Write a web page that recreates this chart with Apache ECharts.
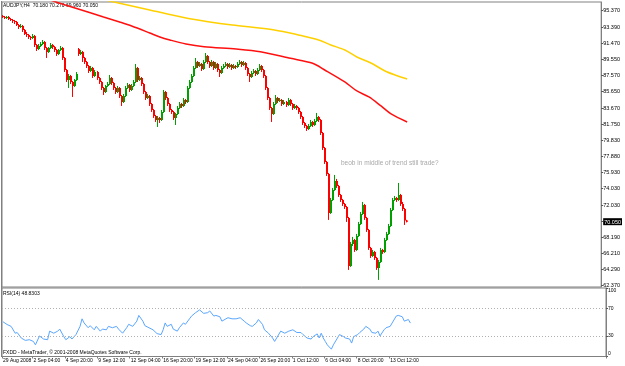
<!DOCTYPE html>
<html><head><meta charset="utf-8">
<script src="https://cdn.jsdelivr.net/npm/echarts@6/dist/echarts.min.js"></script>
<style>html,body{margin:0;padding:0;background:#fff}#c{width:625px;height:366px}</style>
</head><body><div id="c"></div>
<script>
// ---- data (AUDJPY H4) ----
const opens = [
94.74,94.62,94.50,94.62,94.38,94.26,94.14,94.02,93.66,93.42,
93.54,93.06,92.58,92.46,92.22,92.10,92.34,91.26,90.78,91.14,
91.38,91.62,90.90,90.42,90.90,91.26,91.02,90.66,90.18,90.66,
90.90,89.70,88.26,87.06,87.54,86.82,86.34,87.06,90.78,90.18,
90.42,89.70,89.22,88.74,88.14,88.50,87.54,88.02,87.30,86.82,
86.10,85.62,86.34,86.58,87.30,86.70,86.10,85.62,86.10,85.14,
84.42,85.14,86.10,86.46,85.86,86.34,86.82,88.50,87.06,87.30,
86.58,85.62,84.90,85.14,84.18,83.46,82.74,82.26,82.50,82.26,
83.22,85.62,84.90,84.18,83.46,83.22,82.50,82.98,83.70,84.18,
83.94,84.66,84.42,86.10,86.82,87.54,88.50,89.22,88.74,88.98,
88.38,89.22,89.94,89.22,88.74,89.22,88.50,88.98,88.26,87.90,
88.50,88.74,88.98,88.62,88.86,88.50,88.74,88.62,88.98,89.22,
88.86,89.10,88.50,87.78,87.42,87.90,88.14,87.78,88.26,88.74,
88.26,87.54,86.10,84.90,83.70,82.98,84.18,84.90,84.54,84.66,
84.18,84.42,84.06,84.66,84.18,83.70,83.94,83.70,83.22,82.62,
81.90,81.54,81.18,81.54,82.02,81.66,82.14,82.62,82.26,80.70,
78.90,77.22,75.78,71.10,72.66,73.86,74.94,74.34,73.26,72.66,
72.18,71.82,70.50,64.74,67.38,67.86,66.66,68.34,69.78,70.98,
72.06,70.50,69.06,66.90,65.94,66.42,65.70,64.50,65.22,66.66,
66.42,67.86,68.58,69.54,71.46,72.66,72.90,72.66,73.26,72.18,
71.58,70.18];
const closes = [
94.62,94.50,94.62,94.38,94.26,94.14,94.02,93.66,93.42,93.54,
93.06,92.58,92.46,92.22,92.10,92.34,91.26,90.78,91.14,91.38,
91.62,90.90,90.42,90.90,91.26,91.02,90.66,90.18,90.66,90.90,
89.70,88.26,87.06,87.54,86.82,86.34,87.06,87.78,90.18,90.42,
89.70,89.22,88.74,88.14,88.50,87.54,88.02,87.30,86.82,86.10,
85.62,86.34,86.58,87.30,86.70,86.10,85.62,86.10,85.14,84.42,
85.14,86.10,86.46,85.86,86.34,86.82,88.50,87.06,87.30,86.58,
85.62,84.90,85.14,84.18,83.46,82.74,82.26,82.50,82.26,83.22,
85.62,84.90,84.18,83.46,83.22,82.50,82.98,83.70,84.18,83.94,
84.66,84.42,86.10,86.82,87.54,88.50,89.22,88.74,88.98,88.38,
89.22,89.94,89.22,88.74,89.22,88.50,88.98,88.26,87.90,88.50,
88.74,88.98,88.62,88.86,88.50,88.74,88.62,88.98,89.22,88.86,
89.10,88.50,87.78,87.42,87.90,88.14,87.78,88.26,88.74,88.26,
87.54,86.10,84.90,83.70,82.98,84.18,84.90,84.54,84.66,84.18,
84.42,84.06,84.66,84.18,83.70,83.94,83.70,83.22,82.62,81.90,
81.54,81.18,81.54,82.02,81.66,82.14,82.62,82.26,80.70,78.90,
77.22,75.78,71.10,72.66,73.86,74.94,74.34,73.26,72.66,72.18,
71.82,70.50,64.74,67.38,67.86,66.66,68.34,69.78,70.98,72.06,
70.50,69.06,66.90,65.94,66.42,65.70,64.50,65.22,66.66,66.42,
67.86,68.58,69.54,71.46,72.66,72.90,72.66,73.26,72.18,71.58,
70.18,70.05];
const lows = [
94.50,94.38,94.38,94.26,94.14,93.90,93.78,93.54,93.18,93.30,
92.82,92.46,92.22,91.98,91.86,91.98,91.02,90.54,90.66,91.02,
91.26,90.66,89.70,90.30,90.78,90.78,90.42,89.94,90.06,90.54,
89.46,88.02,86.82,86.10,86.58,85.02,86.22,86.94,89.94,90.06,
89.22,88.98,88.50,87.90,88.02,87.30,87.42,87.06,86.58,85.86,
85.26,85.50,86.22,86.46,86.46,85.86,85.38,85.50,84.90,83.94,
84.30,85.02,85.98,85.62,85.74,86.22,86.70,86.82,86.94,86.34,
85.38,84.66,84.78,83.94,83.22,82.50,82.02,81.42,81.90,82.14,
83.10,84.66,83.94,83.22,82.98,82.26,81.66,82.86,83.58,83.70,
83.82,84.18,84.30,85.98,86.70,87.42,88.38,88.50,88.62,88.14,
88.26,89.10,88.98,88.50,88.62,88.26,88.38,88.02,87.42,87.78,
88.38,88.62,88.38,88.50,88.26,88.38,88.38,88.50,88.86,88.62,
88.74,88.26,87.54,86.82,87.30,87.78,87.54,87.66,88.14,88.02,
87.30,85.86,84.66,83.46,82.02,82.86,84.06,84.30,84.42,83.94,
84.06,83.82,83.94,83.94,83.46,83.58,83.46,82.98,82.38,81.66,
81.30,80.94,81.06,81.42,81.42,81.54,82.02,82.02,80.46,78.66,
76.98,75.54,70.26,70.98,72.54,73.74,74.10,73.02,72.42,71.94,
71.58,70.02,64.26,64.62,67.14,66.42,66.54,68.22,69.66,70.86,
70.26,68.82,66.66,65.70,65.82,65.46,64.26,63.06,65.10,66.18,
66.30,67.74,68.46,69.42,71.34,72.54,72.42,72.54,71.94,71.34,
69.66,69.96];
const highs = [
94.86,94.74,94.74,94.74,94.50,94.38,94.26,94.14,93.78,93.78,
93.66,93.18,92.82,92.58,92.34,92.58,92.46,91.38,91.38,91.62,
91.86,91.74,91.02,91.02,91.50,91.38,91.14,90.78,90.78,91.14,
91.02,89.82,88.38,87.78,87.66,86.94,87.18,88.02,90.90,90.66,
90.54,89.82,89.34,88.86,88.74,88.62,88.26,88.14,87.42,86.94,
86.22,86.46,86.82,87.66,87.42,86.82,86.22,86.34,86.22,85.26,
85.38,86.34,86.70,86.58,86.58,87.06,88.98,88.62,87.54,87.42,
86.70,85.74,85.38,85.26,84.30,83.58,82.86,82.74,82.62,83.46,
85.86,85.74,85.02,84.30,83.58,83.34,83.10,83.94,84.42,84.30,
84.90,84.78,86.34,87.06,87.78,88.74,89.70,89.34,89.22,89.10,
89.46,90.30,90.06,89.34,89.46,89.34,89.22,89.10,88.38,88.74,
88.98,89.22,89.10,89.10,88.98,88.98,88.86,89.22,89.46,89.34,
89.34,89.22,88.62,87.90,88.14,88.38,88.26,88.50,88.98,88.86,
88.38,87.66,86.22,85.02,83.82,84.42,85.26,85.02,84.90,84.78,
84.66,84.54,84.90,84.78,84.30,84.18,84.06,83.82,83.34,82.74,
82.02,81.66,81.78,82.26,82.14,82.38,83.10,82.74,82.38,80.82,
79.02,77.34,75.90,72.90,74.10,75.66,75.18,74.46,73.38,72.78,
72.30,71.94,70.62,67.62,68.22,67.98,68.58,70.02,71.22,72.42,
72.18,70.62,69.18,67.02,66.66,66.54,65.82,65.46,66.90,66.78,
68.10,68.82,69.78,71.70,72.90,73.14,73.02,74.70,73.38,72.42,
71.70,70.27];
// moving averages read as [bar index, price]
const redMA = [[0,98.70],[13,97.62],[25,96.54],[31,96.06],[39,95.46],[43,95.16],[50,94.62],[58,94.02],[64,93.54],[73,92.70],[78,92.22],[83,91.86],[91,91.38],[100,91.06],[116,90.78],[128,90.46],[143,89.66],[154,89.06],[160,88.26],[170,86.82],[176,85.74],[182,85.02],[188,83.94],[193,82.98],[201,82.02]];
const yellowMA = [[0,99.30],[28,97.86],[53,96.54],[73,95.46],[91,94.50],[102,94.06],[114,93.66],[135,93.06],[147,92.46],[157,91.86],[163,91.26],[170,90.66],[176,89.82],[183,89.10],[190,88.14],[195,87.66],[201,87.18]];
// RSI(14) read as [bar index, value]
const rsi = [[0,50.7],[2,46.7],[4,44],[6,34],[7,35],[9,27],[11,23.5],[13,24.5],[15,22],[16,17],[18,30],[20,25.5],[22,24.5],[23,37],[25,34],[27,37],[28,40],[30,29],[31,24.5],[33,29],[34,25.5],[36,32],[38,44],[39,55],[40,49],[42,42],[43,45],[45,39],[46,44],[48,37],[49,40],[51,39],[52,44],[54,42],[56,44],[57,40],[59,34],[61,42],[62,47],[64,44],[66,51.6],[67,60],[69,51.6],[70,45],[72,42],[74,39],[76,33.4],[78,32],[79,39],[80,49],[81,44],[83,47],[84,40],[86,37],[87,42],[89,49],[90,47],[92,55],[93,59],[95,64],[97,68],[99,63],[101,64],[102,66.5],[104,59],[105,60],[107,58],[108,51.6],[110,55],[111,56.6],[113,55],[115,55],[117,56.6],[119,51.6],[120,49],[122,45],[123,44],[125,49],[126,54],[128,47],[129,39],[131,34],[133,27],[134,22],[135,27],[137,37],[139,34],[141,37],[143,39],[145,35],[147,35],[148,32],[150,27],[152,25.5],[153,29],[155,33],[156,27],[157,34],[158,27],[159,22],[160,17],[162,10.7],[163,17],[165,27],[166,32],[168,29],[169,27],[171,25.5],[172,19.6],[173,29],[175,32],[176,35],[178,40],[179,44],[181,40],[182,35],[184,34],[185,37],[186,30],[188,39],[189,42],[191,44],[192,49],[194,59],[195,60],[197,58],[198,51.6],[200,54],[201,48.8]];
const priceTicks = [95.37,93.39,91.47,89.55,87.57,85.65,83.67,81.75,79.83,77.88,75.93,74.03,72.03,70.05,68.19,66.21,64.29,62.37];
const currentPrice = 70.05;
const rsiTicks = [0,30,70,100];
const rsiLevels = [70,30];
const timeLabelIdx = [0,15,31,47,63,79,95,111,127,143,159,175,191];
const timeLabels = ['29 Aug 2008','2 Sep 04:00','4 Sep 20:00','9 Sep 12:00','12 Sep 04:00','16 Sep 20:00','19 Sep 12:00','24 Sep 04:00','26 Sep 20:00','1 Oct 12:00','6 Oct 04:00','8 Oct 20:00','13 Oct 12:00'];
const SLOTS = 298;

const categories = [];
for (let i = 0; i < SLOTS; i++) {
  const k = timeLabelIdx.indexOf(i);
  categories.push(k >= 0 ? timeLabels[k] : '');
}
const candleRows = opens.map((o, i) => [i, o, closes[i], lows[i], highs[i]]);
const FONT = 'Liberation Sans, Arial, sans-serif';
const BULL = '#00a000', BEAR = '#ff0000';

function renderCandle(params, api) {
  const i = api.value(0), o = api.value(1), c = api.value(2), l = api.value(3), h = api.value(4);
  const pH = api.coord([i, h]), pL = api.coord([i, l]);
  const pO = api.coord([i, o]), pC = api.coord([i, c]);
  const xr = Math.round(pH[0]);
  const col = c >= o ? BULL : BEAR;
  const top = Math.min(pO[1], pC[1]);
  const hgt = Math.max(1, Math.abs(pO[1] - pC[1]));
  return {type: 'group', children: [
    {type: 'line', shape: {x1: xr - 0.5, y1: pH[1], x2: xr - 0.5, y2: pL[1]}, style: {stroke: col, lineWidth: 1}},
    {type: 'rect', shape: {x: xr - 1, y: top, width: 2, height: hgt}, style: {fill: col}}
  ]};
}

const chart = echarts.init(document.getElementById('c'), null, {renderer: 'canvas'});
const showLab = (idx, val) => val !== '';
chart.setOption({
  animation: false,
  backgroundColor: '#ffffff',
  textStyle: {fontFamily: FONT},
  grid: [
    {left: 2, top: 2, width: 604, height: 285, show: true, borderColor: '#808080', borderWidth: 1, backgroundColor: 'transparent'},
    {left: 2, top: 288, width: 604, height: 68.5, show: true, borderColor: '#808080', borderWidth: 1, backgroundColor: 'transparent'}
  ],
  xAxis: [
    {type: 'category', gridIndex: 0, data: categories, boundaryGap: true,
     axisLine: {show: false}, axisTick: {show: false}, axisLabel: {show: false}, splitLine: {show: false}},
    {type: 'category', gridIndex: 1, data: categories, boundaryGap: true,
     axisLine: {show: true, lineStyle: {color: '#808080'}},
     axisTick: {show: true, interval: showLab, length: 2, lineStyle: {color: '#808080'}},
     axisLabel: {show: true, interval: showLab, align: 'left', fontSize: 5, color: '#000', margin: 2, fontFamily: FONT},
     splitLine: {show: false}}
  ],
  yAxis: [
    {type: 'value', gridIndex: 0, position: 'right', min: 62.21, max: 96.42,
     axisLine: {show: true, lineStyle: {color: '#808080'}},
     axisTick: {show: true, customValues: priceTicks, length: 2, lineStyle: {color: '#555'}},
     axisLabel: {show: true, customValues: priceTicks, fontSize: 5.5, color: '#000', margin: 2, fontFamily: FONT,
       formatter: v => Math.abs(v - currentPrice) < 1e-6 ? '{cur|' + v.toFixed(3) + '}' : v.toFixed(3),
       rich: {cur: {backgroundColor: '#000', color: '#fff', fontSize: 5.5, padding: [1, 1, 0, 1], fontFamily: FONT}}},
     splitLine: {show: false}},
    {type: 'value', gridIndex: 1, position: 'right', min: 0, max: 100,
     axisLine: {show: true, lineStyle: {color: '#808080'}},
     axisTick: {show: true, customValues: rsiTicks, length: 2, lineStyle: {color: '#555'}},
     axisLabel: {show: true, customValues: rsiTicks, fontSize: 5, color: '#000', margin: 2, fontFamily: FONT,
       verticalAlignMaxLabel: 'top', verticalAlignMinLabel: 'bottom'},
     splitLine: {show: false}}
  ],
  series: [
    {type: 'custom', xAxisIndex: 0, yAxisIndex: 0, data: candleRows, renderItem: renderCandle,
     encode: {x: 0, y: [1, 2, 3, 4]}, clip: true, z: 2},
    {type: 'line', xAxisIndex: 0, yAxisIndex: 0, data: redMA, showSymbol: false, symbol: 'none', smooth: 0.3,
     lineStyle: {color: '#ff1010', width: 1.5}, clip: true, z: 3},
    {type: 'line', xAxisIndex: 0, yAxisIndex: 0, data: yellowMA, showSymbol: false, symbol: 'none', smooth: 0.3,
     lineStyle: {color: '#ffd000', width: 1.5}, clip: true, z: 3},
    {type: 'line', xAxisIndex: 1, yAxisIndex: 1, data: rsi, showSymbol: false, symbol: 'none',
     lineStyle: {color: '#5aa6ff', width: 1}, clip: true,
     markLine: {silent: true, symbol: 'none', label: {show: false},
       lineStyle: {color: '#b0b0b0', type: [1, 2], width: 1},
       data: rsiLevels.map(v => ({yAxis: v}))}}
  ],
  graphic: [
    {type: 'rect', left: 1, top: 1, shape: {width: 1, height: 356}, style: {fill: '#808080'}, silent: true},
    {type: 'text', left: 3, top: 3, style: {text: 'AUDJPY,H4  70.180 70.270 69.960 70.050', fontSize: 5, fontFamily: FONT, fill: '#000'}},
    {type: 'text', left: 3, top: 291, style: {text: 'RSI(14) 48.8303', fontSize: 5, fontFamily: FONT, fill: '#000'}},
    {type: 'text', left: 3, top: 350, style: {text: 'FXDD - MetaTrader, \u00a9 2001-2008 MetaQuotes Software Corp.', fontSize: 5, fontFamily: FONT, fill: '#000'}},
    {type: 'text', left: 341, top: 160, style: {text: 'beob in middle of trend still trade?', fontSize: 6.5, fontFamily: FONT, fill: '#a8a8a8'}}
  ]
});
</script></body></html>
